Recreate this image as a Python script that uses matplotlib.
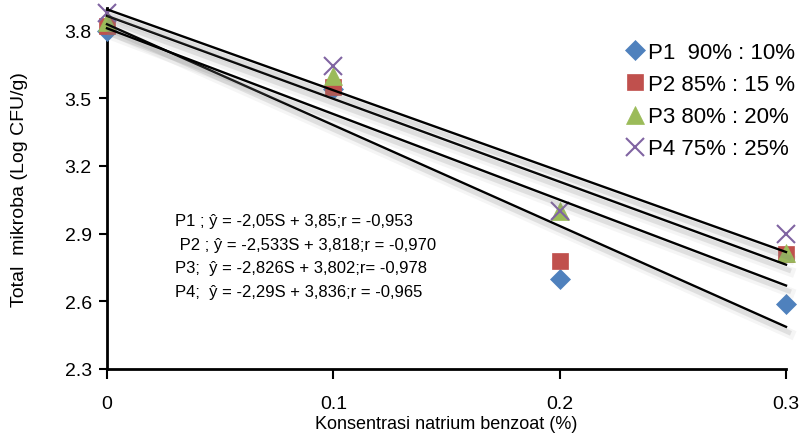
import numpy as np
import matplotlib
matplotlib.use('Agg')
import matplotlib.pyplot as plt
import matplotlib.patheffects as pe

plt.rcParams['font.family'] = ['Liberation Sans', 'DejaVu Sans']

# data
konsentrasi = [0, 0.1, 0.2, 0.3]
p1 = [3.80, 3.54, 2.70, 2.59]
p2 = [3.82, 3.55, 2.78, 2.81]
p3 = [3.84, 3.60, 3.00, 2.815]
p4 = [3.88, 3.645, 3.00, 2.90]
labels = ['P1  90% : 10%', 'P2 85% : 15 %', 'P3 80% : 20%', 'P4 75% : 25%']
equations = [
    'P1 ; ŷ = -2,05S + 3,85;r = -0,953',
    ' P2 ; ŷ = -2,533S + 3,818;r = -0,970',
    'P3;  ŷ = -2,826S + 3,802;r= -0,978',
    'P4;  ŷ = -2,29S + 3,836;r = -0,965',
]

colors = ['#4F81BD', '#C0504D', '#9BBB59', '#8064A2']
markers = ['D', 's', '^', 'x']
sizes = [10, 12, 13, 13]

fig = plt.figure(figsize=(8, 4.35), dpi=100)
ax = fig.add_axes([107 / 800, 1 - 370 / 435, (786 - 107) / 800, (370 - 9) / 435])

x = np.array(konsentrasi)
for ys, c, m, ms, lab in zip([p1, p2, p3, p4], colors, markers, sizes, labels):
    ax.plot(x, ys, linestyle='none', marker=m, color=c, markersize=ms,
            markeredgewidth=1.5 if m == 'x' else 0.5, label=lab, zorder=3, clip_on=False)

# linear trendlines with soft shadow
shadow = [pe.SimpleLineShadow(offset=(3, -5), shadow_color='0.5', alpha=0.08, linewidth=7),
          pe.SimpleLineShadow(offset=(2, -4), shadow_color='0.5', alpha=0.18, linewidth=3.5),
          pe.Normal()]
for ys in [p1, p2, p3, p4]:
    k, b = np.polyfit(x, ys, 1)
    ax.plot(x[[0, -1]], k * x[[0, -1]] + b, color='black', linewidth=1.7,
            path_effects=shadow, zorder=4, clip_on=False)

ax.set_xlim(0, 0.3)
ax.set_ylim(2.3, 3.9)
ax.set_xticks([0, 0.1, 0.2, 0.3])
ax.set_xticklabels(['0', '0.1', '0.2', '0.3'])
ax.set_yticks([2.3, 2.6, 2.9, 3.2, 3.5, 3.8])
ax.spines['top'].set_visible(False)
ax.spines['right'].set_visible(False)
ax.spines['left'].set_linewidth(2)
ax.spines['bottom'].set_linewidth(2)
ax.tick_params(axis='x', length=7, width=1.5, pad=12, labelsize=14)
ax.tick_params(axis='y', length=6, width=1.5, pad=5, labelsize=14)

ax.set_xlabel('Konsentrasi natrium benzoat (%)', fontsize=13)
ax.xaxis.set_label_coords(0.5, -(416 - 370) / 361)
ax.set_ylabel('Total  mikroba (Log CFU/g)', fontsize=14, labelpad=26)

for i, eq in enumerate(equations):
    fig.text(175 / 800, 1 - (222 + 23.5 * i) / 435, eq, fontsize=12, va='center', ha='left')

ax.legend(loc='upper right', bbox_to_anchor=(1.027, 0.93), frameon=False, fontsize=16,
          handletextpad=0.1, handlelength=1.0, labelspacing=0.5, borderaxespad=0)

plt.savefig('out.png', dpi=100)
